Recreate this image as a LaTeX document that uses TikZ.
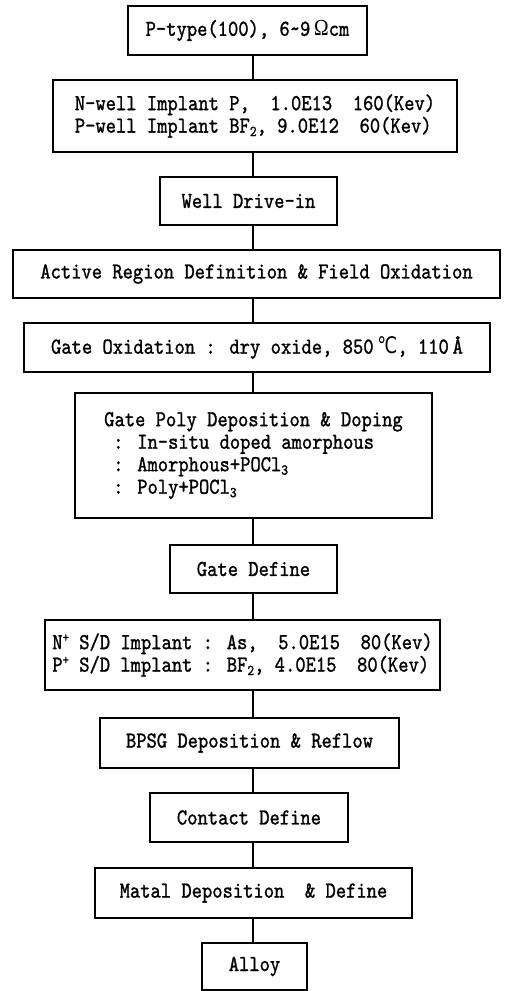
\documentclass[tikz,border=0pt]{standalone}
\usepackage{fontspec}
\newfontfamily\flowfont{lmmono10-regular.otf}[FakeStretch=0.86,FakeBold=1.2]
\newfontfamily\greekfont{Liberation Serif}[FakeStretch=0.86]
\newfontfamily\degfont{DejaVu Sans}[FakeStretch=0.78]
\newcommand{\lowidx}[1]{\raisebox{-0.35ex}{\fontsize{15}{15}\selectfont #1}}
\newcommand{\upidx}[1]{\raisebox{0.75ex}{\fontsize{14}{14}\selectfont #1}}

\begin{document}
\begin{tikzpicture}[x=1pt,y=-1pt,line width=1.1pt,
    font=\flowfont\fontsize{22.8}{22.5}\selectfont,
    procbox/.style={draw,rectangle,inner sep=0pt,align=center}]
    \useasboundingbox (0,0) rectangle (508,991);
    \coordinate (spine) at (253,0);
    \node[procbox,minimum width=239pt,minimum height=49pt] (sub) at (247.5,30.5)
      {P-type(100), 6\textasciitilde 9\,{\greekfont Ω}cm};
    \node[procbox,align=left,minimum width=404pt,minimum height=72pt] (well) at (255,116)
      {N-well Implant P,\ \ 1.0E13\ \ 160(Kev)\\
       P-well Implant BF\lowidx{2}, 9.0E12\ \ 60(Kev)};
    \node[procbox,minimum width=177pt,minimum height=48pt] (drive) at (248.5,201) {Well Drive-in};
    \node[procbox,minimum width=487pt,minimum height=48pt] (active) at (256.5,274)
      {Active Region Definition \& Field Oxidation};
    \node[procbox,minimum width=466pt,minimum height=49pt] (gox) at (257,347.5)
      {Gate Oxidation : dry oxide, 850\,{\degfont ℃}, 110\,Å};
    \node[procbox,align=left,minimum width=357pt,minimum height=125pt] (poly) at (253.5,455.5)
      {Gate Poly Deposition \& Doping\\
       \hspace*{9pt}: In-situ doped amorphous\\
       \hspace*{9pt}: Amorphous+POCl\lowidx{3}\\
       \hspace*{9pt}: Poly+POCl\lowidx{3}};
    \node[procbox,minimum width=167pt,minimum height=48pt] (gate) at (253.5,569) {Gate Define};
    \node[procbox,align=left,minimum width=395pt,minimum height=70pt] (sd) at (242.5,655)
      {N\upidx{+} S/D Implant : As,\ \ 5.0E15\ \ 80(Kev)\\
       P\upidx{+} S/D lmplant : BF\lowidx{2}, 4.0E15\ \ 80(Kev)};
    \node[procbox,minimum width=299pt,minimum height=50pt] (bpsg) at (249.5,743)
      {BPSG Deposition \& Reflow};
    \node[procbox,minimum width=198pt,minimum height=49pt] (contact) at (249,817.5) {Contact Define};
    \node[procbox,minimum width=317pt,minimum height=50pt] (metal) at (253.5,893)
      {Matal Deposition\ \ \& Define};
    \node[procbox,minimum width=105pt,minimum height=47pt] (alloy) at (254.5,966.5) {Alloy};
    \foreach \a/\b in {sub/well,well/drive,drive/active,active/gox,gox/poly,poly/gate,
                       gate/sd,sd/bpsg,bpsg/contact,contact/metal,metal/alloy}
      \draw (\a.south -| spine) -- (\b.north -| spine);
\end{tikzpicture}
\end{document}
